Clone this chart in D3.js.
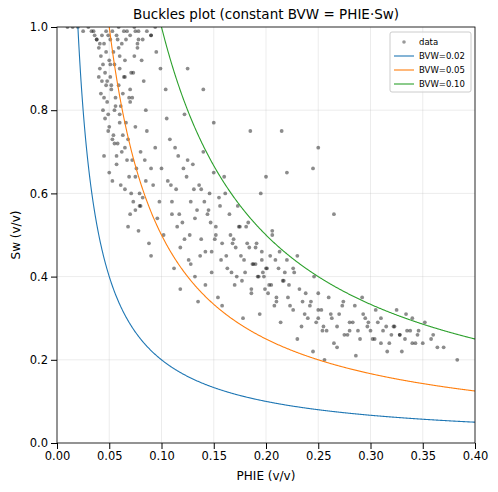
<!DOCTYPE html>
<html><head><meta charset="utf-8">
<script src="https://cdn.jsdelivr.net/npm/d3@7"></script>
<style>body{margin:0;background:#fff}text{font-family:"DejaVu Sans",sans-serif}</style>
</head><body><svg id="c" width="498" height="492"></svg>
<script>
// data points: [PHIE, Sw]
const phie = [
0.010,0.015,0.020,0.025,0.030,0.033,0.036,0.038,0.040,0.042,0.044,0.045,0.046,0.048,0.050,0.052,0.054,0.056,0.058,0.060,
0.040,0.042,0.044,0.046,0.048,0.050,0.052,0.054,0.056,0.058,0.060,0.062,0.064,0.066,0.068,0.070,0.072,0.074,0.076,0.078,
0.045,0.047,0.049,0.051,0.053,0.055,0.057,0.059,0.061,0.063,0.065,0.067,0.069,0.071,0.073,0.075,0.077,0.079,0.081,0.083,
0.050,0.055,0.060,0.065,0.070,0.075,0.080,0.085,0.090,0.095,0.060,0.065,0.070,0.075,0.080,0.085,0.090,0.068,0.072,0.078,
0.082,0.086,0.088,0.092,0.096,0.099,0.084,0.090,0.094,0.098,0.102,0.104,0.100,0.106,0.108,0.110,0.112,0.114,0.116,0.118,
0.120,0.122,0.124,0.126,0.128,0.130,0.132,0.134,0.136,0.138,0.140,0.142,0.144,0.146,0.148,0.150,0.152,0.154,0.156,0.158,
0.110,0.115,0.118,0.122,0.125,0.128,0.132,0.135,0.138,0.142,0.145,0.148,0.152,0.155,0.158,0.162,0.165,0.168,0.172,0.175,
0.160,0.163,0.166,0.170,0.173,0.176,0.180,0.183,0.186,0.190,0.193,0.196,0.200,0.203,0.206,0.210,0.213,0.216,0.220,0.223,
0.178,0.182,0.186,0.190,0.194,0.198,0.202,0.206,0.210,0.214,0.218,0.222,0.226,0.230,0.234,0.238,0.242,0.246,0.250,0.254,
0.226,0.230,0.235,0.240,0.245,0.250,0.255,0.260,0.265,0.270,0.275,0.280,0.285,0.290,0.295,0.300,0.305,0.310,0.315,0.320,
0.250,0.256,0.262,0.268,0.274,0.280,0.286,0.292,0.298,0.304,0.310,0.316,0.322,0.328,0.334,0.340,0.346,0.352,0.358,0.364,
0.325,0.330,0.335,0.340,0.345,0.350,0.360,0.370,0.383,0.245,0.250,0.265,0.215,0.220,0.200,0.195,0.185,0.140,0.150,0.125,
0.035,0.038,0.041,0.043,0.047,0.049,0.051,0.053,0.057,0.059,0.062,0.064,0.066,0.070,0.074,0.078,0.082,0.086,0.090,0.094,
0.041,0.043,0.045,0.047,0.049,0.051,0.053,0.055,0.057,0.059,0.061,0.063,0.065,0.067,0.069,0.071,0.073,0.075,0.077,0.079,
0.105,0.109,0.113,0.117,0.121,0.127,0.131,0.137,0.141,0.147,0.151,0.157,0.161,0.167,0.171,0.177,0.181,0.187,0.191,0.197,
0.199,0.204,0.208,0.212,0.217,0.221,0.227,0.232,0.237,0.243,0.248,0.253,0.258,0.263,0.268,0.273,0.278,0.283,0.288,0.293,
0.297,0.302,0.307,0.312,0.318,0.323,0.328,0.333,0.338,0.343,0.188,0.192,0.196,0.201,0.205,0.209,0.184,0.179,0.174,0.169
];
const sw = [
1.00,1.00,1.00,0.99,1.00,0.99,0.98,0.97,0.95,0.93,0.91,0.96,0.89,0.87,0.92,0.85,0.94,0.83,0.97,0.90,
0.88,0.84,0.80,0.78,0.82,0.76,0.86,0.74,0.81,0.72,0.79,0.70,0.88,0.77,0.73,0.85,0.68,0.93,0.66,0.97,
0.69,0.86,0.75,0.91,0.63,0.80,0.67,0.95,0.62,0.84,0.71,0.99,0.64,0.89,0.58,0.76,0.96,0.60,0.92,0.87,
0.65,0.72,0.77,0.61,0.82,0.56,0.70,0.63,0.98,0.94,0.93,0.88,0.55,0.99,0.57,0.80,0.66,0.52,0.83,0.51,
0.59,0.75,0.48,0.62,0.54,0.90,0.68,0.45,0.71,0.58,0.50,0.85,0.66,0.63,0.73,0.55,0.42,0.61,0.69,0.47,
0.53,0.79,0.64,0.44,0.58,0.67,0.40,0.56,0.62,0.49,0.70,0.38,0.55,0.60,0.46,0.65,0.52,0.35,0.57,0.48,
0.58,0.52,0.37,0.49,0.68,0.43,0.54,0.34,0.61,0.46,0.56,0.41,0.50,0.59,0.33,0.45,0.55,0.48,0.40,0.52,
0.64,0.42,0.50,0.38,0.57,0.45,0.41,0.53,0.36,0.47,0.40,0.44,0.42,0.38,0.51,0.35,0.46,0.39,0.44,0.33,
0.30,0.48,0.37,0.43,0.31,0.40,0.36,0.50,0.34,0.29,0.41,0.38,0.32,0.45,0.28,0.36,0.33,0.40,0.30,0.27,
0.42,0.25,0.34,0.30,0.22,0.32,0.28,0.35,0.24,0.31,0.26,0.29,0.33,0.25,0.30,0.27,0.32,0.24,0.28,0.26,
0.36,0.20,0.31,0.23,0.34,0.27,0.21,0.35,0.29,0.25,0.30,0.22,0.28,0.26,0.31,0.24,0.27,0.29,0.25,0.23,
0.32,0.22,0.27,0.30,0.26,0.24,0.26,0.23,0.20,0.66,0.71,0.55,0.75,0.65,0.64,0.60,0.75,0.85,0.77,0.90,
0.99,0.97,0.96,0.98,0.99,0.98,0.97,0.99,0.98,1.00,0.96,0.99,0.97,0.98,1.00,0.99,0.97,0.99,0.98,1.00,
0.90,0.87,0.83,0.94,0.79,0.88,0.73,0.91,0.69,0.86,0.81,0.74,0.92,0.68,0.83,0.60,0.89,0.64,0.95,0.57,
0.78,0.62,0.71,0.55,0.66,0.50,0.61,0.45,0.58,0.53,0.49,0.44,0.60,0.41,0.47,0.39,0.52,0.43,0.48,0.41,
0.37,0.45,0.33,0.42,0.39,0.35,0.41,0.37,0.31,0.34,0.29,0.32,0.27,0.30,0.28,0.33,0.26,0.29,0.27,0.31,
0.28,0.25,0.29,0.27,0.24,0.28,0.26,0.25,0.27,0.24,0.43,0.40,0.46,0.42,0.38,0.44,0.47,0.44,0.52,0.49
];
const bvwValues = [0.02, 0.05, 0.10];
const bvwColors = ["#1f77b4", "#ff7f0e", "#2ca02c"];
const xTicks = [0,0.05,0.10,0.15,0.20,0.25,0.30,0.35,0.40];
const yTicks = [0,0.2,0.4,0.6,0.8,1.0];

const svg = d3.select("#c");
const m = {l:57, r:475, t:27, b:443};
const x = d3.scaleLinear().domain([0,0.4]).range([m.l,m.r]);
const y = d3.scaleLinear().domain([0,1]).range([m.b,m.t]);

svg.append("defs").append("clipPath").attr("id","clip").append("rect")
  .attr("x",m.l).attr("y",m.t).attr("width",m.r-m.l).attr("height",m.b-m.t);

// grid
const g = svg.append("g");
g.selectAll(".gx").data(xTicks).join("line").attr("x1",d=>x(d)).attr("x2",d=>x(d))
  .attr("y1",m.t).attr("y2",m.b).attr("stroke","#b0b0b0").attr("stroke-opacity",0.3).attr("stroke-width",0.8);
g.selectAll(".gy").data(yTicks).join("line").attr("y1",d=>y(d)).attr("y2",d=>y(d))
  .attr("x1",m.l).attr("x2",m.r).attr("stroke","#b0b0b0").attr("stroke-opacity",0.3).attr("stroke-width",0.8);

const plot = svg.append("g").attr("clip-path","url(#clip)");
plot.selectAll("circle").data(d3.range(phie.length)).join("circle")
  .attr("cx",i=>x(phie[i])).attr("cy",i=>y(sw[i])).attr("r",1.9)
  .attr("fill","#000").attr("fill-opacity",0.45);

const line = d3.line().x(d=>x(d[0])).y(d=>y(d[1]));
bvwValues.forEach((b,k)=>{
  const pts = d3.range(b, 0.4001, 0.0005).map(p=>[p, b/p]);
  plot.append("path").attr("d",line(pts)).attr("fill","none")
    .attr("stroke",bvwColors[k]).attr("stroke-width",1.1);
});

const ax = svg.append("g").attr("transform",`translate(0,${m.b})`)
  .call(d3.axisBottom(x).tickValues(xTicks).tickFormat(d3.format(".2f")).tickSizeOuter(0));
const ay = svg.append("g").attr("transform",`translate(${m.l},0)`)
  .call(d3.axisLeft(y).tickValues(yTicks).tickFormat(d3.format(".1f")).tickSizeOuter(0));
[ax,ay].forEach(a=>{a.selectAll("text").attr("font-size",11.5).attr("fill","#000");
  a.select(".domain").remove();});
svg.append("rect").attr("x",m.l).attr("y",m.t).attr("width",m.r-m.l).attr("height",m.b-m.t)
  .attr("fill","none").attr("stroke","#000").attr("stroke-width",0.8);

svg.append("text").attr("x",(m.l+m.r)/2).attr("y",19).attr("text-anchor","middle")
  .attr("font-size",13.5).text("Buckles plot (constant BVW = PHIE·Sw)");
svg.append("text").attr("x",(m.l+m.r)/2).attr("y",480).attr("text-anchor","middle")
  .attr("font-size",12).text("PHIE (v/v)");
svg.append("text").attr("transform",`translate(20,${(m.t+m.b)/2}) rotate(-90)`)
  .attr("text-anchor","middle").attr("font-size",12).text("Sw (v/v)");

// legend
const lg = svg.append("g").attr("transform","translate(390,32)");
lg.append("rect").attr("width",81).attr("height",60).attr("rx",2).attr("fill","#fff")
  .attr("fill-opacity",0.8).attr("stroke","#ccc");
lg.append("circle").attr("cx",14).attr("cy",10).attr("r",1.8).attr("fill","#000").attr("fill-opacity",0.4);
lg.append("text").attr("x",29).attr("y",13).attr("font-size",8.5).text("data");
bvwValues.forEach((b,k)=>{
  const yy = 24 + k*14;
  lg.append("line").attr("x1",4).attr("x2",24).attr("y1",yy).attr("y2",yy)
    .attr("stroke",bvwColors[k]).attr("stroke-width",1.1);
  lg.append("text").attr("x",29).attr("y",yy+3).attr("font-size",8.5).text("BVW="+b.toFixed(2));
});
</script></body></html>
